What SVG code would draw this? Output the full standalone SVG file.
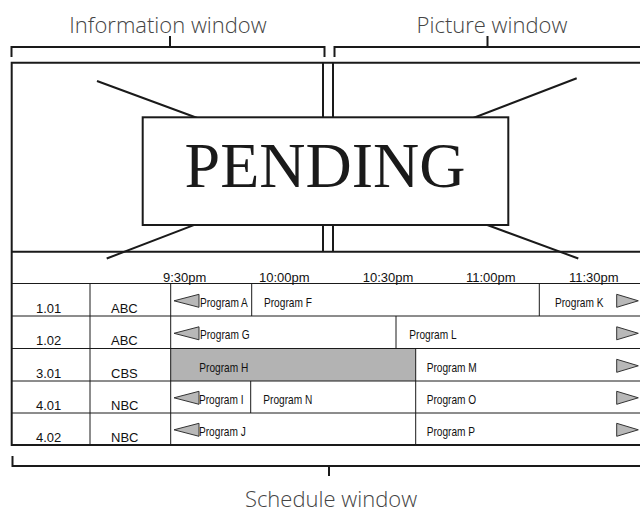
<svg xmlns="http://www.w3.org/2000/svg" width="640" height="512" viewBox="0 0 640 512">
<style>
.frame{fill:none;stroke:#1a1a1a;stroke-width:2}
.box{fill:#fff;stroke:#1a1a1a;stroke-width:2}
.thin{fill:none;stroke:#1a1a1a;stroke-width:1}
.lbl{font-family:"Open Sans","Liberation Sans",sans-serif;font-weight:300;font-size:22px;fill:#444}
.time{font-family:"Liberation Sans",Arial,sans-serif;font-size:13px;fill:#111}
.ch{font-family:"Liberation Sans",Arial,sans-serif;font-size:13px;fill:#111}
.prog{font-family:"Liberation Sans",Arial,sans-serif;font-size:13px;fill:#111}
.arr{fill:#b8b8b8;stroke:#333;stroke-width:1}
</style>
<rect width="640" height="512" fill="#fff"/>

<g id="labels">
<text class="lbl" x="168" y="32.5" text-anchor="middle">Information window</text>
<text class="lbl" x="492" y="32.5" text-anchor="middle">Picture window</text>
<text class="lbl" x="331" y="507" text-anchor="middle">Schedule window</text>
</g>

<g id="brackets" class="frame">
<path d="M11.5,57 V47 H324.5 V57 M170,36 V47"/>
<path d="M334.5,57 V47 H641 M487.5,36 V47"/>
<path d="M12.5,456 V466 H641 M329,466 V476"/>
</g>

<g id="screen">
<path class="frame" d="M641,62.7 H11.7 V445 H641"/>
<path class="frame" d="M323,62.7 V251.7 M333,62.7 V251.7 M11.7,251.7 H641"/>
</g>

<g id="pending">
<path class="frame" d="M97,81 L578.3,258.5 M576.7,78.3 L106.7,258.5"/>
<rect class="box" x="142.7" y="117.3" width="365.6" height="107.7"/>
<text x="325" y="187" text-anchor="middle" font-family="'Liberation Serif','Times New Roman',serif" font-size="64" fill="#1a1a1a">PENDING</text>
</g>

<g id="schedule">
<rect x="170.7" y="348.5" width="245" height="32.5" fill="#b3b3b3"/>
<g class="thin">
<path d="M11.7,283.5 H641 M11.7,316 H641 M11.7,348.5 H641 M11.7,381 H641 M11.7,413 H641"/>
<path d="M90,283.5 V445 M170.7,283.5 V445"/>
<path d="M251.7,283.5 V316 M539.3,283.5 V316 M396,316 V348.5 M415.7,348.5 V445 M250.7,381 V413"/>
</g>
<g id="times">
<text class="time" x="163" y="281.5">9:30pm</text>
<text class="time" x="259" y="281.5">10:00pm</text>
<text class="time" x="362.7" y="281.5">10:30pm</text>
<text class="time" x="466" y="281.5">11:00pm</text>
<text class="time" x="569" y="281.5">11:30pm</text>
</g>
<g id="channels">
<text class="ch" x="36" y="312.5">1.01</text><text class="ch" x="111" y="312.5">ABC</text>
<text class="ch" x="36" y="345">1.02</text><text class="ch" x="111" y="345">ABC</text>
<text class="ch" x="36" y="377.5">3.01</text><text class="ch" x="111" y="377.5">CBS</text>
<text class="ch" x="36" y="409.5">4.01</text><text class="ch" x="111" y="409.5">NBC</text>
<text class="ch" x="36" y="441.5">4.02</text><text class="ch" x="111" y="441.5">NBC</text>
</g>
<g id="programs">
<text class="prog" transform="translate(200,306.7) scale(0.78,1)">Program A</text>
<text class="prog" transform="translate(264,306.7) scale(0.78,1)">Program F</text>
<text class="prog" transform="translate(555,306.7) scale(0.78,1)">Program K</text>
<text class="prog" transform="translate(200,339.2) scale(0.78,1)">Program G</text>
<text class="prog" transform="translate(409.3,339.2) scale(0.78,1)">Program L</text>
<text class="prog" transform="translate(199.3,371.7) scale(0.78,1)">Program H</text>
<text class="prog" transform="translate(426.7,371.7) scale(0.78,1)">Program M</text>
<text class="prog" transform="translate(199,403.7) scale(0.78,1)">Program I</text>
<text class="prog" transform="translate(263.3,403.7) scale(0.78,1)">Program N</text>
<text class="prog" transform="translate(426.7,403.7) scale(0.78,1)">Program O</text>
<text class="prog" transform="translate(199,435.7) scale(0.78,1)">Program J</text>
<text class="prog" transform="translate(426.7,435.7) scale(0.78,1)">Program P</text>
</g>
<g id="arrows">
<path class="arr" d="M174,300.8 L199,294.3 V307.3 Z"/>
<path class="arr" d="M174,333.3 L199,326.8 V339.8 Z"/>
<path class="arr" d="M174,397.8 L199,391.3 V404.3 Z"/>
<path class="arr" d="M174,429.8 L199,423.3 V436.3 Z"/>
<path class="arr" d="M638.3,300.8 L616.7,294.3 V307.3 Z"/>
<path class="arr" d="M638.3,333.3 L616.7,326.8 V339.8 Z"/>
<path class="arr" d="M638.3,365.8 L616.7,359.3 V372.3 Z"/>
<path class="arr" d="M638.3,397.8 L616.7,391.3 V404.3 Z"/>
<path class="arr" d="M638.3,429.8 L616.7,423.3 V436.3 Z"/>
</g>
</g>
</svg>
